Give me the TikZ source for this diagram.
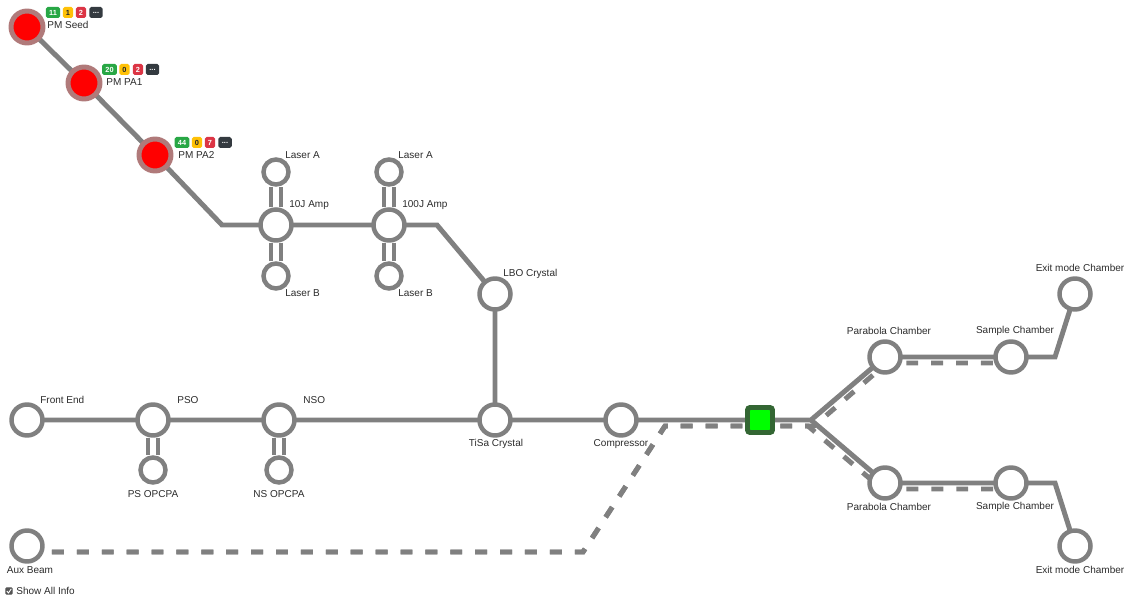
\documentclass[tikz,border=0pt]{standalone}
\usepackage{fontspec}
\setmainfont{Liberation Sans}
\usetikzlibrary{backgrounds}
\definecolor{trackgray}{HTML}{808080}
\definecolor{faultred}{HTML}{FF0000}
\definecolor{faultring}{HTML}{B07A7A}
\definecolor{okgreen}{HTML}{28A745}
\definecolor{warnyellow}{HTML}{FFC107}
\definecolor{errred}{HTML}{DC3545}
\definecolor{moredark}{HTML}{343A40}
\definecolor{darktext}{HTML}{212529}
\definecolor{gatefill}{HTML}{00FF00}
\definecolor{gateedge}{HTML}{336633}
\definecolor{labelink}{HTML}{2B2B2B}
\definecolor{checkgray}{HTML}{555555}

\begin{document}
\begin{tikzpicture}[
  x=0.02cm,
  y=-0.02cm,
  every node/.style={font=\fontsize{5.7}{6.8}\selectfont, text=labelink, inner sep=0pt},
  station/.style={circle, draw=trackgray, fill=white, line width=2.55pt, minimum size=0.62cm},
  sidestation/.style={station, minimum size=0.5cm},
  fault/.style={circle, draw=faultring, fill=faultred, line width=2.83pt, minimum size=0.64cm},
  gatebox/.style={rectangle, rounded corners=1.5pt, draw=gateedge, fill=gatefill, line width=2.83pt, minimum size=0.5cm},
  track/.style={draw=trackgray, line width=2.83pt},
  spur/.style={draw=trackgray, line width=2.4pt, double=white, double distance=3pt},
  auxtrack/.style={draw=trackgray, line width=2.83pt, dash pattern=on 6.8pt off 7.37pt, dash phase=9.07pt},
  badge/.style={rounded corners=1pt, minimum height=0.22cm, minimum width=0.2cm, inner xsep=1.8pt,
    text=white, font=\fontsize{4.2}{4.2}\selectfont\bfseries}
]
  \useasboundingbox (0,0) rectangle (1127,601);

  % pump line
  \node[fault] (seed) at (27,27) {};
  \node[fault] (pa1) at (84,83) {};
  \node[fault] (pa2) at (155,155) {};
  \coordinate (bend1) at (222,225);

  % amplifiers
  \node[station] (amp10) at (276,225) {};
  \node[sidestation] (la10) at (276,172) {};
  \node[sidestation] (lb10) at (276,276) {};
  \node[station] (amp100) at (389,225) {};
  \node[sidestation] (la100) at (389,172) {};
  \node[sidestation] (lb100) at (389,276) {};
  \coordinate (bend2) at (437,225);
  \node[station] (lbo) at (495,294) {};

  % front end line
  \node[station] (front) at (27,420) {};
  \node[station] (pso) at (153,420) {};
  \node[sidestation] (psopa) at (153,470) {};
  \node[station] (nso) at (279,420) {};
  \node[sidestation] (nsopa) at (279,470) {};
  \node[station] (tisa) at (495,420) {};
  \node[station] (comp) at (621,420) {};
  \node[gatebox] (gate) at (760,420) {};
  \coordinate (fork) at (811,420);

  % chambers
  \node[station] (par1) at (885,357) {};
  \node[station] (smp1) at (1011,357) {};
  \coordinate (kink1) at (1055,357);
  \node[station] (exit1) at (1075,294) {};
  \node[station] (par2) at (885,483) {};
  \node[station] (smp2) at (1011,483) {};
  \coordinate (kink2) at (1055,483);
  \node[station] (exit2) at (1075,546) {};

  \node[station] (aux) at (27,546) {};

  % aux beam route
  \coordinate (aux0) at (43,552);
  \coordinate (aux1) at (583,552);
  \coordinate (aux2) at (665,426);
  \coordinate (aux3) at (814,426);
  \coordinate (aux4) at (887,363);
  \coordinate (aux5) at (1011,363);
  \coordinate (aux6) at (808,426);
  \coordinate (aux7) at (882,489);
  \coordinate (aux8) at (1011,489);

  \begin{scope}[on background layer]
    \draw[track] (seed.center) -- (pa1.center) -- (pa2.center) -- (bend1) -- (amp10.center)
      -- (amp100.center) -- (bend2) -- (lbo.center) -- (tisa.center);
    \draw[track] (front.center) -- (pso.center) -- (nso.center) -- (tisa.center) -- (comp.center)
      -- (gate.center) -- (fork) -- (par1.center) -- (smp1.center) -- (kink1) -- (exit1.center);
    \draw[track] (fork) -- (par2.center) -- (smp2.center) -- (kink2) -- (exit2.center);
    \draw[spur] (amp10) -- (la10);
    \draw[spur] (amp10) -- (lb10);
    \draw[spur] (amp100) -- (la100);
    \draw[spur] (amp100) -- (lb100);
    \draw[spur] (pso) -- (psopa);
    \draw[spur] (nso) -- (nsopa);
    \draw[auxtrack] (aux0) -- (aux1) -- (aux2) -- (aux3) -- (aux4) -- (aux5);
    \draw[auxtrack] (aux0) -- (aux1) -- (aux2) -- (aux6) -- (aux7) -- (aux8);
  \end{scope}

  % status badges
  \node[badge, fill=okgreen] (seedok) at (53,12.5) {11};
  \node[badge, fill=warnyellow, text=darktext] (seedwarn) at (68,12.5) {1};
  \node[badge, fill=errred] (seederr) at (81,12.5) {2};
  \node[badge, fill=moredark, minimum width=0.27cm] (seedmore) at (96,12.5) {...};
  \node[badge, fill=okgreen] (pa1ok) at (109.5,69.5) {20};
  \node[badge, fill=warnyellow, text=darktext] (pa1warn) at (124.5,69.5) {0};
  \node[badge, fill=errred] (pa1err) at (138,69.5) {2};
  \node[badge, fill=moredark, minimum width=0.27cm] (pa1more) at (152.5,69.5) {...};
  \node[badge, fill=okgreen] (pa2ok) at (182,142.5) {44};
  \node[badge, fill=warnyellow, text=darktext] (pa2warn) at (197,142.5) {0};
  \node[badge, fill=errred] (pa2err) at (210,142.5) {7};
  \node[badge, fill=moredark, minimum width=0.27cm] (pa2more) at (225,142.5) {...};

  % labels
  \node[anchor=west] (seedtxt) at (47,25) {PM Seed};
  \node[anchor=west] (pa1txt) at (106,82) {PM PA1};
  \node[anchor=west] (pa2txt) at (178,155) {PM PA2};
  \node[anchor=west] (la10txt) at (285,155) {Laser A};
  \node[anchor=west] (amp10txt) at (289,205) {10J Amp};
  \node[anchor=west] (lb10txt) at (285,293) {Laser B};
  \node[anchor=west] (la100txt) at (398,155) {Laser A};
  \node[anchor=west] (amp100txt) at (402,205) {100J Amp};
  \node[anchor=west] (lb100txt) at (398,293) {Laser B};
  \node[anchor=west] (lbotxt) at (503,274) {LBO Crystal};
  \node[anchor=west] (fronttxt) at (40,400) {Front End};
  \node[anchor=west] (psotxt) at (177,400) {PSO};
  \node[anchor=west] (nsotxt) at (303,400) {NSO};
  \node (psopatxt) at (153,494) {PS OPCPA};
  \node (nsopatxt) at (279,494) {NS OPCPA};
  \node (tisatxt) at (496,444) {TiSa Crystal};
  \node (comptxt) at (621,444) {Compressor};
  \node (par1txt) at (889,331) {Parabola Chamber};
  \node (smp1txt) at (1015,331) {Sample Chamber};
  \node (exit1txt) at (1080,268) {Exit mode Chamber};
  \node (par2txt) at (889,507) {Parabola Chamber};
  \node (smp2txt) at (1015,507) {Sample Chamber};
  \node (exit2txt) at (1080,570) {Exit mode Chamber};
  \node (auxtxt) at (30,570) {Aux Beam};

  % show-info toggle
  \node[draw=checkgray, fill=checkgray, rounded corners=0.5pt, minimum size=0.13cm] (infobox) at (9,591) {};
  \draw[white, line width=0.5pt] (6.8,591) -- (8.5,593) -- (11.3,588.8);
  \node[anchor=west] (infotxt) at (16,591) {Show All Info};
\end{tikzpicture}
\end{document}
